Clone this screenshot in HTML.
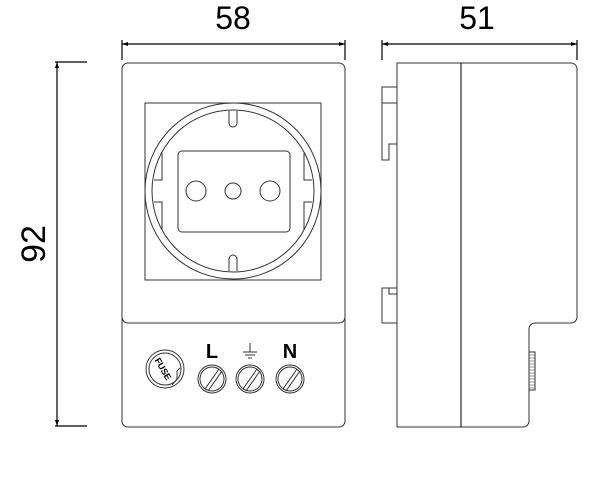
<!DOCTYPE html>
<html><head><style>html,body{margin:0;padding:0;background:#fff}svg{display:block}</style></head><body>
<svg width="608" height="482" viewBox="0 0 608 482" xmlns="http://www.w3.org/2000/svg" font-family="Liberation Sans, sans-serif">
<g stroke="#000" stroke-width="1.2" fill="none">
<line x1="122" y1="44" x2="345" y2="44"/><line x1="122" y1="40" x2="122" y2="60"/><line x1="345" y1="40" x2="345" y2="60"/>
<line x1="382" y1="44" x2="577" y2="44"/><line x1="382" y1="40" x2="382" y2="60"/><line x1="577" y1="40" x2="577" y2="60"/>
<line x1="57" y1="62" x2="57" y2="426"/><line x1="55" y1="62" x2="87" y2="62"/><line x1="55" y1="426" x2="87" y2="426"/>
</g>
<g fill="#000">
<path d="M122 44 l6 -2 v4z M345 44 l-6 -2 v4z M382 44 l6 -2 v4z M577 44 l-6 -2 v4z M57 62 l-2 6 h4z M57 426 l-2 -6 h4z"/>
</g>
<text x="233" y="29" font-size="32" text-anchor="middle" fill="#000">58</text>
<text x="477" y="29" font-size="32" text-anchor="middle" fill="#000">51</text>
<text transform="translate(45,244) rotate(-90)" font-size="34" text-anchor="middle" fill="#000">92</text>
<g stroke="#333" stroke-width="1" fill="none">
<rect x="122" y="63" width="223" height="364" rx="6"/>
<path d="M122 316 q0 7 7 7 h209 q7 0 7 -7"/>
<rect x="145" y="103" width="176" height="177"/>
<circle cx="233" cy="191" r="88"/><circle cx="233" cy="191" r="81"/>
<rect x="178" y="151" width="112" height="81" rx="4"/>
<circle cx="196" cy="191" r="10"/><circle cx="233" cy="191" r="8"/><circle cx="270" cy="191" r="10"/>
<path d="M229 111 v12 a4 4 0 0 0 8 0 v-12"/>
<path d="M229 271 v-12 a4 4 0 0 1 8 0 v12"/>
<path d="M162 153 v27 h-8 M162 230 v-28 h-8 M304 153 v27 h8 M304 230 v-28 h8"/>
<circle cx="165" cy="369" r="19"/><circle cx="165" cy="369" r="16"/>
<circle cx="212" cy="379" r="14"/><circle cx="212" cy="379" r="12"/>
<circle cx="250" cy="379" r="14"/><circle cx="250" cy="379" r="12"/>
<circle cx="290" cy="379" r="14"/><circle cx="290" cy="379" r="12"/>
<path d="M205 389 l14 -20 M208 391 l14 -20 M243 389 l14 -20 M246 391 l14 -20 M283 389 l14 -20 M286 391 l14 -20"/>
<path d="M243 352 h14 M245 355 h10 M248 358 h4 M250 343 v9"/>
<path d="M172 385 l5 -6 v-8 l3 -3"/>
</g>
<text x="163" y="372" font-size="9" font-weight="bold" text-anchor="middle" transform="rotate(60 163 369)">FUSE</text>
<text x="212" y="358" font-size="20" font-weight="bold" text-anchor="middle">L</text>
<text x="290" y="358" font-size="20" font-weight="bold" text-anchor="middle">N</text>
<g stroke="#333" stroke-width="1" fill="none">
<path d="M397 63 h174 a6 6 0 0 1 6 6 v248 a6 6 0 0 1 -6 6 h-36 a6 6 0 0 0 -6 6 v92 a6 6 0 0 1 -6 6 h-126 z"/>
<line x1="461" y1="63" x2="461" y2="427" stroke="#000"/>
<path d="M397 87 h-15 v73 h7 v-16 h8 M382 103 h15"/>
<path d="M397 288 h-15 v35 h15 M382 288 h7 v6 h8"/>
<rect x="529" y="352" width="6" height="38"/>
</g>
<g stroke="#333" stroke-width="0.6">
<path d="M529 355h6M529 358h6M529 361h6M529 364h6M529 367h6M529 370h6M529 373h6M529 376h6M529 379h6M529 382h6M529 385h6M529 388h6"/>
</g>
</svg>
</body></html>
